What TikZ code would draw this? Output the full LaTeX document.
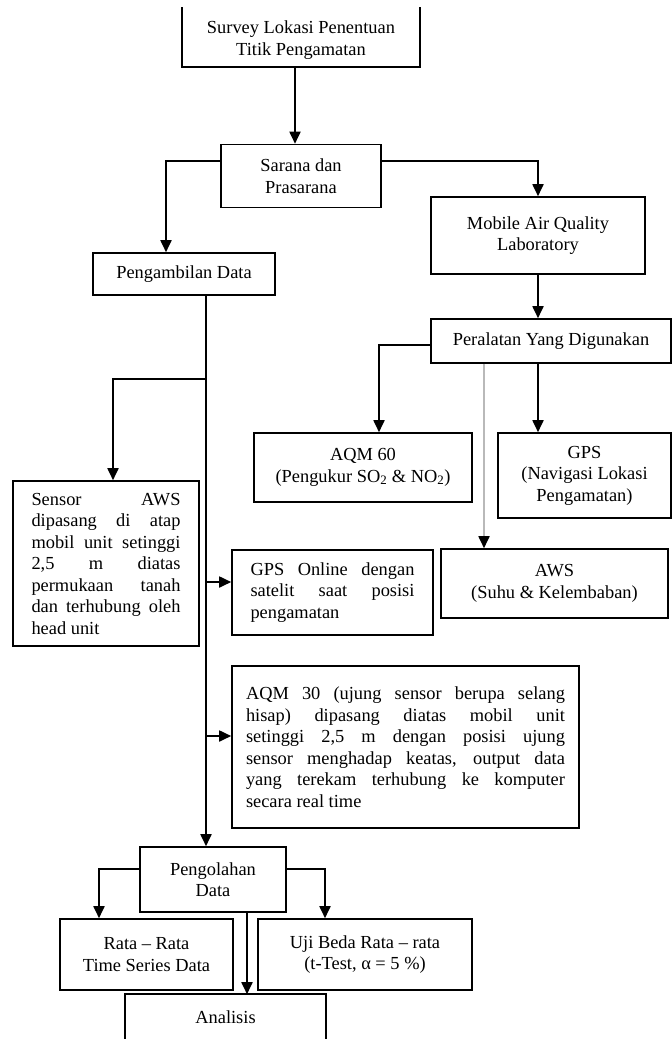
\documentclass[tikz,border=0pt]{standalone}
\usepackage{fontspec}
\setmainfont{Liberation Serif}
\usetikzlibrary{arrows.meta}
\tikzset{
    box/.style = {draw, line width = 1.6pt, inner sep = 0pt, align = center,
                  font = \fontsize{18.4}{21.5}\selectfont},
    textbox/.style = {box, align = justify},
    flow/.style = {line width = 1.8pt, -{Triangle[width = 11pt, length = 12pt]}},
    greyflow/.style = {line width = 1.8pt, gray!55, -{Triangle[width = 11pt, length = 12pt, color = black]}}
}
\begin{document}
\begin{tikzpicture}[x = 1pt, y = -1pt]
            \useasboundingbox (0,0) rectangle (672,1039);
            \node[box, draw = none, minimum width = 236pt, minimum height = 52pt] (survey) at (301,40) {Survey Lokasi Penentuan\\[1pt]Titik Pengamatan};
            \draw[line width = 1.6pt] ([yshift = 6pt]survey.north west) -- (survey.south west) -- (survey.south east) -- ([yshift = 6pt]survey.north east);
            \node[box, minimum width = 160pt, minimum height = 63pt] (sarana) at (301,176) {Sarana dan\\Prasarana};
            \node[box, minimum width = 182pt, minimum height = 42pt] (ambil) at (184,274) {Pengambilan Data};
            \node[box, minimum width = 214pt, minimum height = 77pt] (mobile) at (538,235.5) {Mobile Air Quality\\Laboratory};
            \node[box, minimum width = 240pt, minimum height = 44pt] (alat) at (551,341) {Peralatan Yang Digunakan};
            \node[box, minimum width = 218pt, minimum height = 69pt] (aqmenam) at (363,467.5) {AQM 60\\(Pengukur SO\textsubscript{2} \& NO\textsubscript{2})};
            \node[box, minimum width = 173pt, minimum height = 85pt] (gps) at (584.5,475.5) {GPS\\(Navigasi Lokasi\\Pengamatan)};
            \node[box, minimum width = 227pt, minimum height = 69pt] (aws) at (554.5,583.5) {AWS\\(Suhu \& Kelembaban)};
            \node[textbox, text width = 149pt, minimum width = 186pt, minimum height = 165pt] (sensor) at (106,563.5)
                {Sensor AWS\linebreak dipasang di atap\linebreak mobil unit setinggi\linebreak 2,5 m diatas\linebreak permukaan tanah\linebreak dan terhubung oleh\linebreak head unit};
            \node[textbox, text width = 164pt, minimum width = 201pt, minimum height = 85pt] (gpsonline) at (332.5,592.5)
                {GPS Online dengan\linebreak satelit saat posisi\linebreak pengamatan};
            \node[textbox, text width = 319pt, minimum width = 347pt, minimum height = 162pt] (aqmtiga) at (405.5,747)
                {AQM 30 (ujung sensor berupa selang\linebreak hisap) dipasang diatas mobil unit\linebreak setinggi 2,5 m dengan posisi ujung\linebreak sensor menghadap keatas, output data\linebreak yang terekam terhubung ke komputer\linebreak secara real time};
            \node[box, minimum width = 146pt, minimum height = 65pt] (olah) at (213,879.5) {Pengolahan\\Data};
            \node[box, minimum width = 173pt, minimum height = 71pt] (rata) at (146.5,954.5) {Rata – Rata\\Time Series Data};
            \node[box, minimum width = 214pt, minimum height = 71pt] (uji) at (365,954.5) {Uji Beda Rata – rata\\(t-Test, α = 5 \%)};
            \node[box, draw = none, minimum width = 199pt, minimum height = 44pt] (analisis) at (225.5,1017) {Analisis};
            \draw[line width = 1.6pt] ([yshift = -20pt]analisis.south west) -- (analisis.north west) -- (analisis.north east) -- ([yshift = -20pt]analisis.south east);

            \draw[flow] ([xshift = -6pt]survey.south) -- ([xshift = -6pt]sarana.north);
            \draw[flow] ([yshift = 15pt]sarana.west) -| ([xshift = -18pt]ambil.north);
            \draw[flow] ([yshift = 15pt]sarana.east) -| (mobile.north);
            \draw[flow] (mobile.south) -- (mobile.south |- alat.north);
            \draw[flow] ([yshift = -4pt]alat.west) -| ([xshift = 16pt]aqmenam.north);
            \draw[flow] (mobile.south |- alat.south) -- (mobile.south |- gps.north);
            \draw[greyflow] (alat.south -| 484,0) -- (aws.north -| 484,0);

            \coordinate (split) at ([xshift = 22pt]ambil.south);
            \draw[flow] (split) -- (split |- olah.north);
            \draw[flow] (split |- 0,379) -| ([xshift = 7pt]sensor.north);
            \draw[flow] (split |- 0,582) -- (gpsonline.west |- 0,582);
            \draw[flow] (split |- 0,736) -- (aqmtiga.west |- 0,736);

            \draw[flow] ([yshift = 10.5pt]olah.west) -| ([xshift = -47.5pt]rata.north);
            \draw[flow] ([yshift = 10.5pt]olah.east) -| ([xshift = -40pt]uji.north);
            \draw[flow] (olah.south -| 247,0) -- (analisis.north -| 247,0);
\end{tikzpicture}
\end{document}
